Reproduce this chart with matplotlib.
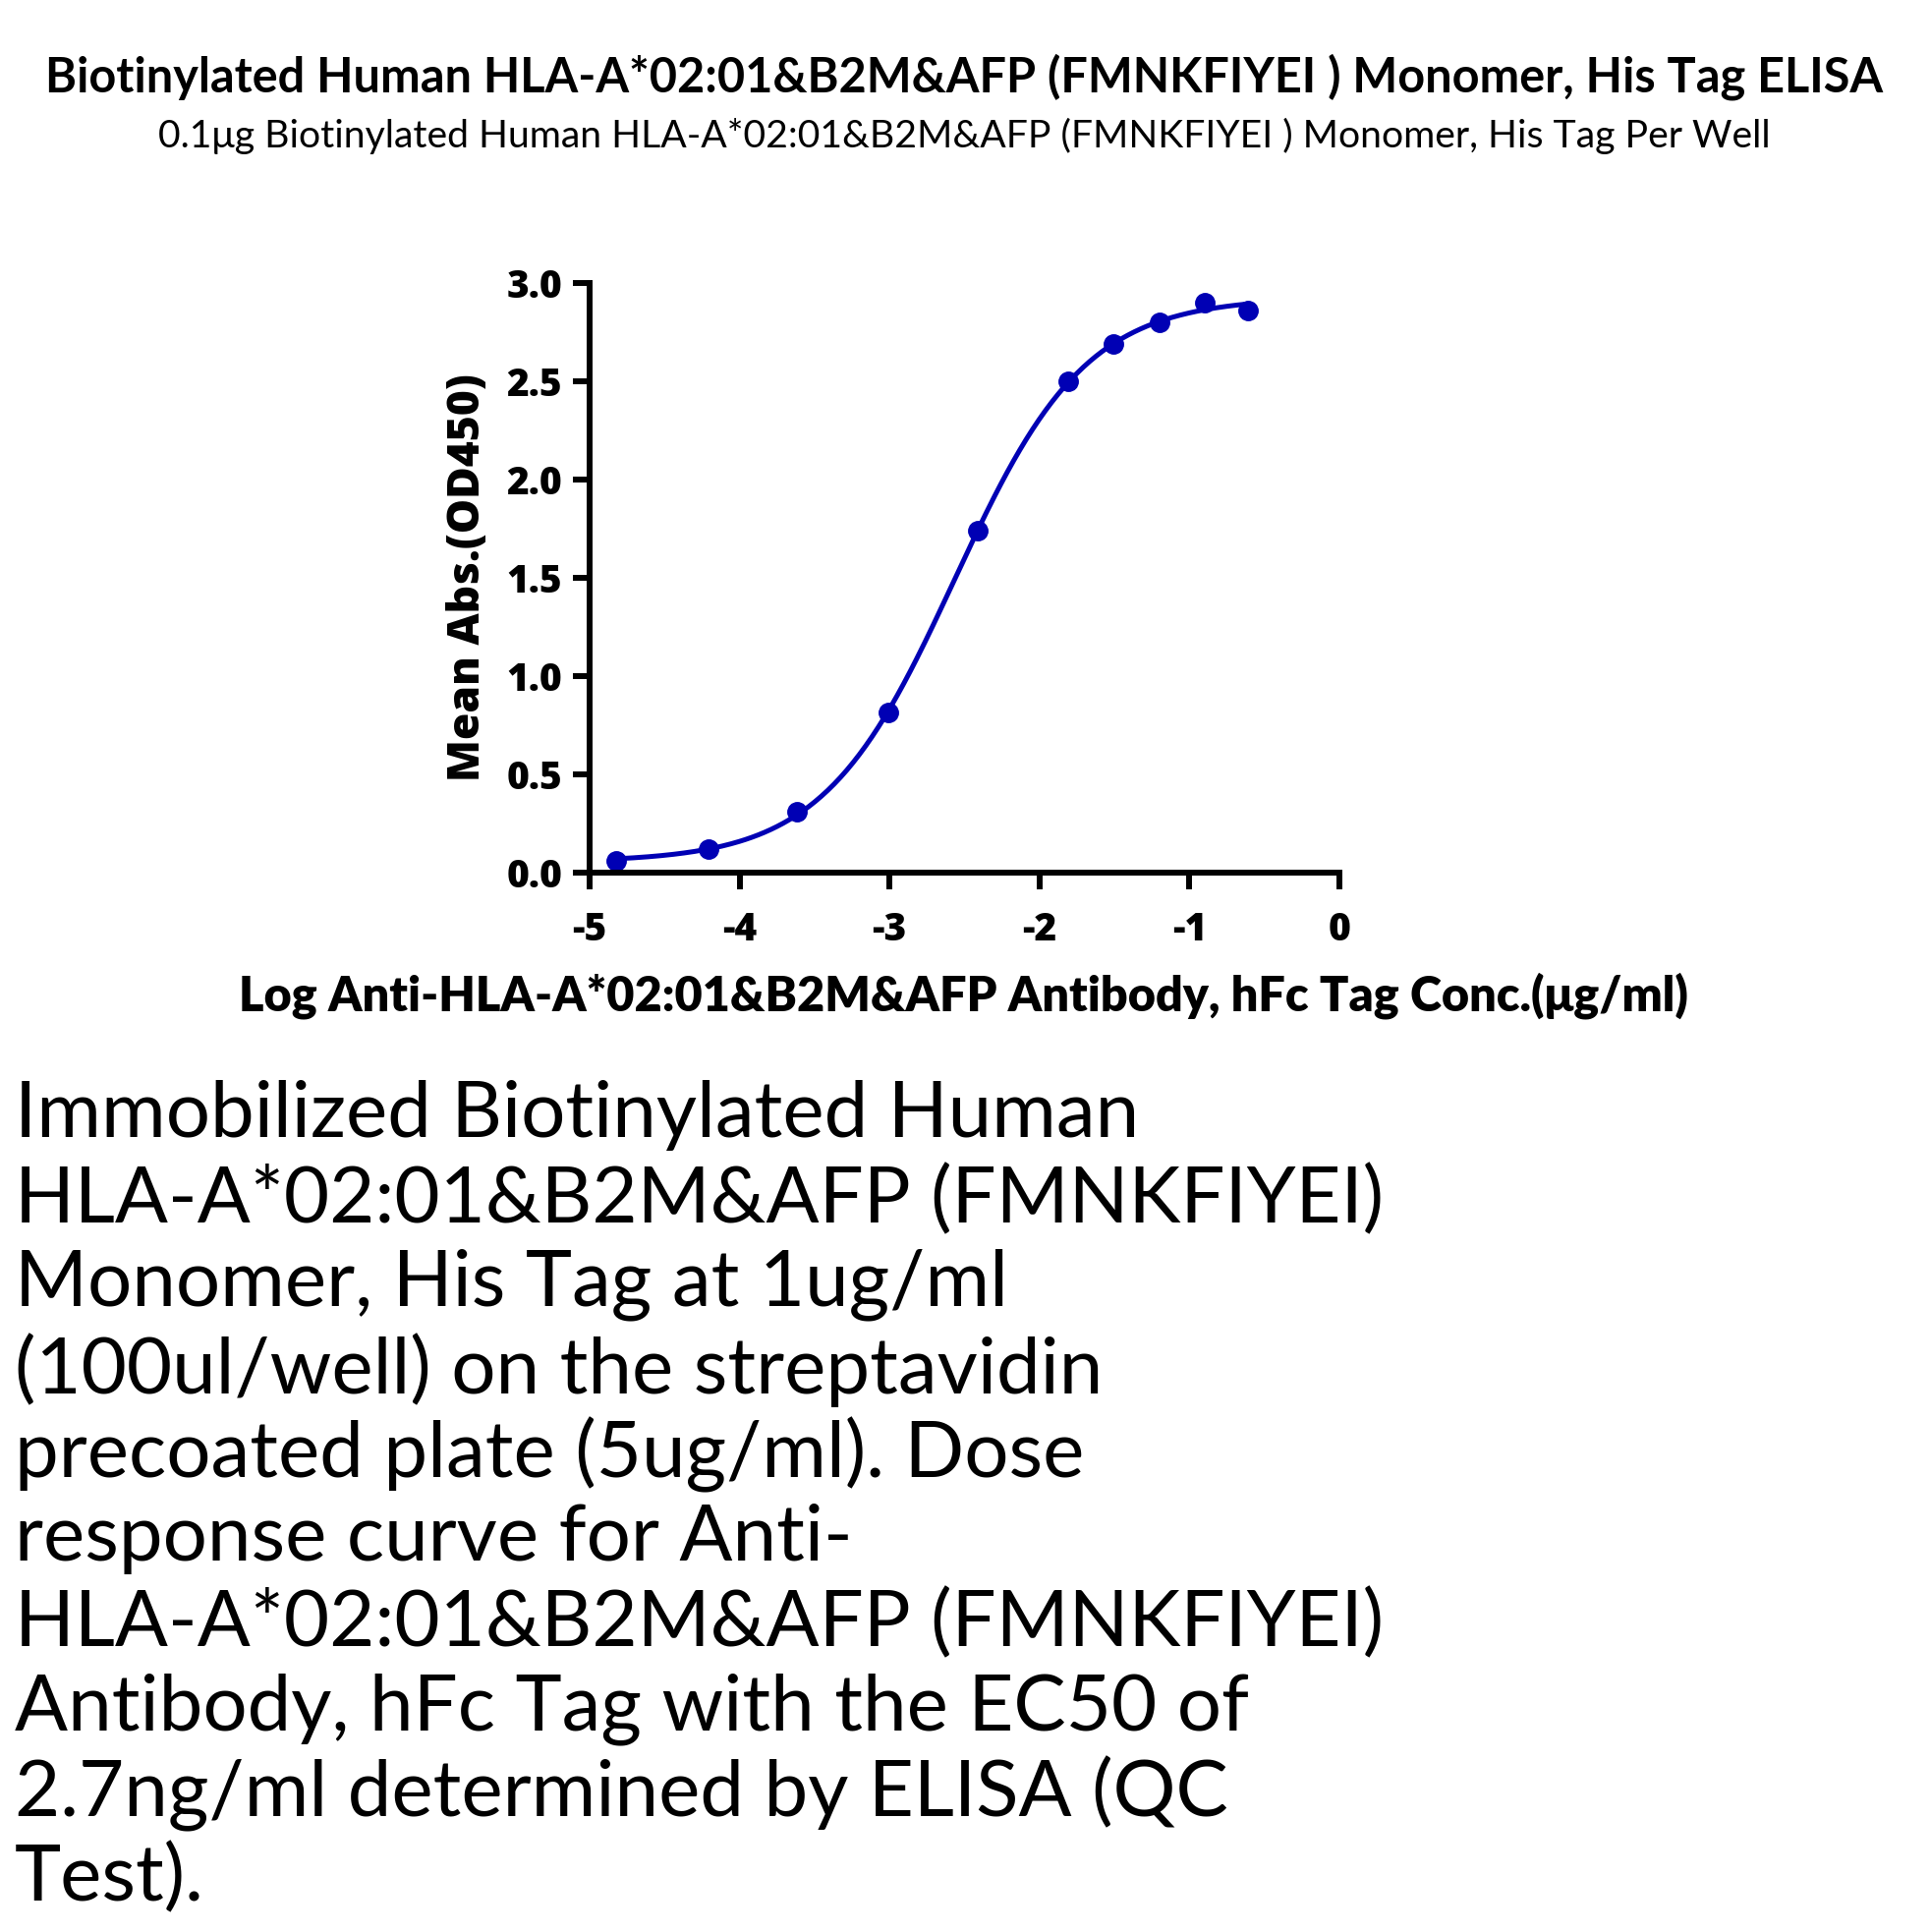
import numpy as np
import matplotlib.pyplot as plt

# Data
log_conc = np.array([-4.82, -4.21, -3.62, -3.01, -2.41, -1.81, -1.51, -1.20, -0.90, -0.61])
od450 = np.array([0.06, 0.12, 0.31, 0.815, 1.74, 2.50, 2.69, 2.80, 2.90, 2.86])

x_ticks = [-5, -4, -3, -2, -1, 0]
y_ticks = [0.0, 0.5, 1.0, 1.5, 2.0, 2.5, 3.0]

title = "Biotinylated Human HLA-A*02:01&B2M&AFP (FMNKFIYEI ) Monomer, His Tag ELISA"
subtitle = "0.1\u03bcg Biotinylated Human HLA-A*02:01&B2M&AFP (FMNKFIYEI ) Monomer, His Tag Per Well"
x_label = "Log Anti-HLA-A*02:01&B2M&AFP Antibody, hFc Tag Conc.(\u03bcg/ml)"
y_label = "Mean Abs.(OD450)"
caption_lines = [
    "Immobilized Biotinylated Human",
    "HLA-A*02:01&B2M&AFP (FMNKFIYEI)",
    "Monomer, His Tag at 1ug/ml",
    "(100ul/well) on the streptavidin",
    "precoated plate (5ug/ml). Dose",
    "response curve for Anti-",
    "HLA-A*02:01&B2M&AFP (FMNKFIYEI)",
    "Antibody, hFc Tag with the EC50 of",
    "2.7ng/ml determined by ELISA (QC",
    "Test).",
]

color = "#0000b4"


def four_pl(x, p):
    bottom, top, logec50, hill = p
    return bottom + (top - bottom) / (1 + 10 ** ((logec50 - x) * hill))


def fit_four_pl(x, y, p0):
    # small Levenberg-Marquardt fit, no scipy needed
    p = np.array(p0, dtype=float)
    lam = 1e-3
    for _ in range(300):
        r = y - four_pl(x, p)
        J = np.empty((len(x), len(p)))
        for k in range(len(p)):
            dp = np.zeros_like(p)
            dp[k] = 1e-6
            J[:, k] = (four_pl(x, p + dp) - four_pl(x, p - dp)) / 2e-6
        A = J.T @ J
        step = np.linalg.solve(A + lam * np.diag(np.diag(A)), J.T @ r)
        p_new = p + step
        if np.sum((y - four_pl(x, p_new)) ** 2) < np.sum(r ** 2):
            p = p_new
            lam *= 0.5
        else:
            lam *= 4
    return p


params = fit_four_pl(log_conc, od450, [0.05, 2.9, -2.6, 1.0])
x_fit = np.linspace(log_conc.min(), log_conc.max(), 300)
y_fit = four_pl(x_fit, params)

fig = plt.figure(figsize=(19.64, 19.66), dpi=100)
ax = fig.add_axes([0.3055, 0.5483, 0.3885, 0.3052])

ax.plot(x_fit, y_fit, color=color, linewidth=3.6, solid_capstyle="round")
ax.plot(log_conc, od450, "o", color=color, markersize=14)

ax.set_xlim(-5, 0)
ax.set_ylim(0, 3)
ax.set_xticks(x_ticks)
ax.set_yticks(y_ticks)
ax.set_xticklabels([str(t) for t in x_ticks])
ax.set_yticklabels([f"{t:.1f}" for t in y_ticks])

for side in ["top", "right"]:
    ax.spines[side].set_visible(False)
for side in ["left", "bottom"]:
    ax.spines[side].set_linewidth(4.3)
ax.tick_params(width=4.3, length=12, pad=8)
for lab in ax.get_xticklabels() + ax.get_yticklabels():
    lab.set_fontfamily("Open Sans")
    lab.set_fontweight("heavy")
    lab.set_fontsize(28)
ax.tick_params(axis="x", pad=16)
for line in ax.lines:
    line.set_clip_on(False)

ax.set_ylabel(y_label, fontfamily="Open Sans", fontweight="heavy", fontsize=32, labelpad=12)

fig.text(0.4995, 0.9603, title, ha="center", va="center", fontfamily="Lato",
         fontweight="bold", fontsize=35)
fig.text(0.4995, 0.9298, subtitle, ha="center", va="center", fontfamily="Lato",
         fontsize=28.2)
fig.text(0.499, 0.4848, x_label, ha="center", va="center", fontfamily="Lato",
         fontweight="heavy", fontsize=35)

y0 = 1135
for i, line in enumerate(caption_lines):
    fig.text(15 / 1964, 1 - (y0 + i * 86.3) / 1966, line, ha="left", va="center",
             fontfamily="Lato", fontsize=57.5)

fig.savefig("out.png", dpi=100)
